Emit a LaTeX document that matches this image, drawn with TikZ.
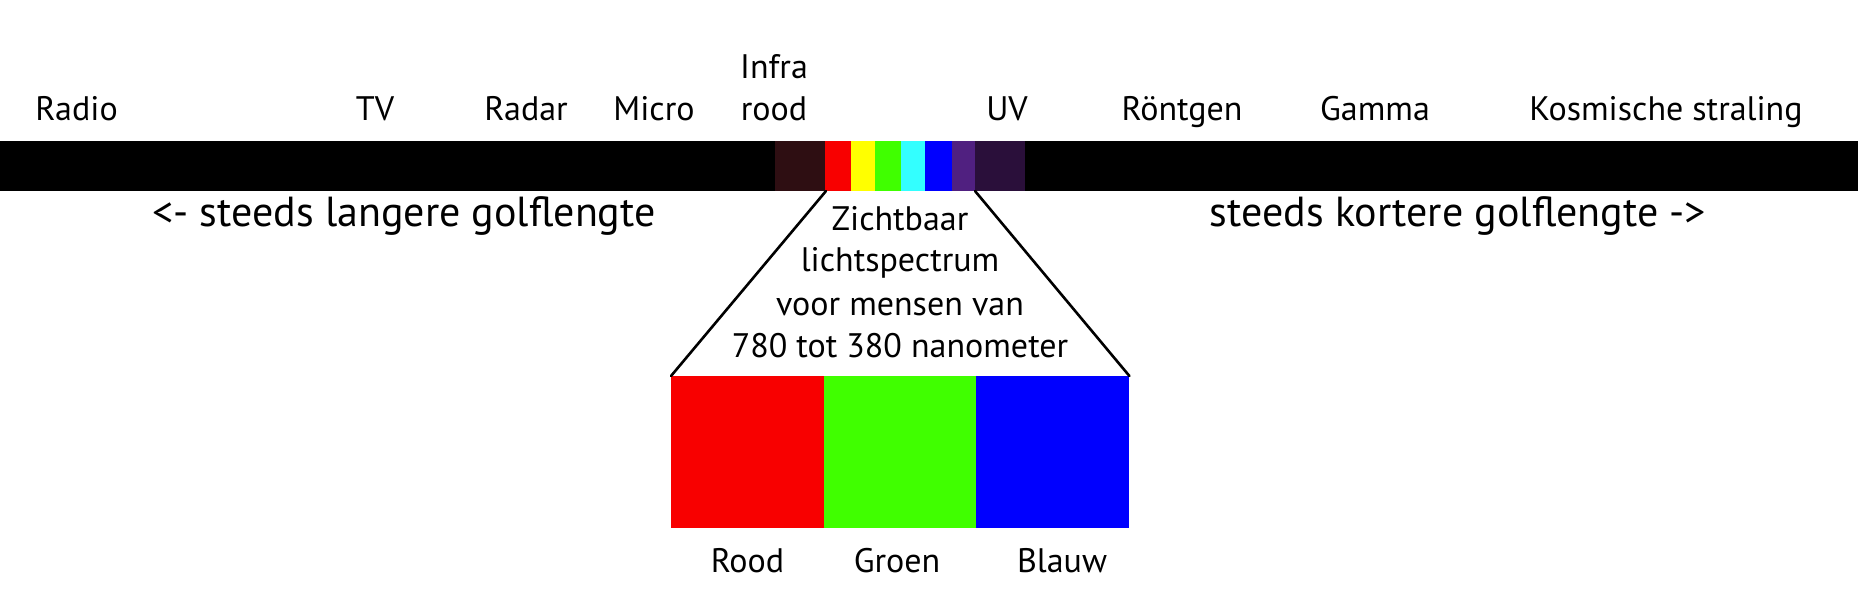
\documentclass[tikz,border=0pt]{standalone}
\usepackage{fontspec}
\setmainfont{PT Sans}
\usepackage{tikz}
\usetikzlibrary{positioning}

\definecolor{irdark}{RGB}{46,14,18}
\definecolor{specred}{RGB}{248,0,0}
\definecolor{specyellow}{RGB}{255,255,0}
\definecolor{specgreen}{RGB}{64,255,0}
\definecolor{speccyan}{RGB}{51,255,255}
\definecolor{specblue}{RGB}{0,0,255}
\definecolor{specpurple}{RGB}{80,32,128}
\definecolor{uvdark}{RGB}{42,15,58}

\tikzset{
	lbl/.style={font=\fontsize{34}{42}\selectfont, inner sep=0pt},
	bigtxt/.style={font=\fontsize{42}{50}\selectfont, inner sep=0pt},
	colbox/.style={minimum width=153pt, minimum height=152pt, inner sep=0pt, anchor=north west},
	fan/.style={line width=2.6pt, line cap=round}
}

\begin{document}
\begin{tikzpicture}[x=1pt, y=-1pt]
			%%%%% START %%%%%
			\useasboundingbox (0, 0) rectangle (1858, 604);
			
			\fill[black] (0, 141) rectangle (1858, 191);
			
			\fill[irdark] (775, 141) rectangle (825, 191);
			\fill[specred] (825, 141) rectangle (851, 191);
			\fill[specyellow] (851, 141) rectangle (875, 191);
			\fill[specgreen] (875, 141) rectangle (901, 191);
			\fill[speccyan] (901, 141) rectangle (925, 191);
			\fill[specblue] (925, 141) rectangle (952, 191);
			\fill[specpurple] (952, 141) rectangle (975, 191);
			\fill[uvdark] (975, 141) rectangle (1025, 191);
			
			\coordinate (visL) at (826, 191);
			\coordinate (visR) at (975, 191);
			
			\node[lbl, anchor=base] (radio) at (76.5, 121) {Radio};
			\node[lbl, anchor=base] (tv) at (375, 121) {TV};
			\node[lbl, anchor=base] (radar) at (526, 121) {Radar};
			\node[lbl, anchor=base] (micro) at (654, 121) {Micro};
			\node[lbl, anchor=base] (rood) at (774, 121) {rood};
			\node[lbl, anchor=base] (infra) at (774, 79) {Infra};
			\node[lbl, anchor=base] (uv) at (1007, 121) {UV};
			\node[lbl, anchor=base] (rontgen) at (1182, 121) {Röntgen};
			\node[lbl, anchor=base] (gamma) at (1375, 121) {Gamma};
			\node[lbl, anchor=base] (kosmisch) at (1666, 121) {Kosmische straling};
			
			\node[bigtxt, anchor=base] (langer) at (404, 227) {<- steeds langere golflengte};
			\node[bigtxt, anchor=base] (korter) at (1458, 227) {steeds kortere golflengte ->};
			
			\node[lbl, anchor=base] (zicht1) at (900, 230) {Zichtbaar};
			\node[lbl, anchor=base] (zicht2) at (900, 272) {lichtspectrum};
			\node[lbl, anchor=base] (zicht3) at (900, 315) {voor mensen van};
			\node[lbl, anchor=base] (zicht4) at (900, 357) {780 tot 380 nanometer};
			
			\node[colbox, fill=specred] (boxR) at (671, 376) {};
			\node[colbox, fill=specgreen] (boxG) at (824, 376) {};
			\node[colbox, fill=specblue] (boxB) at (976, 376) {};
			
			\draw[fan] (visL) -- (boxR.north west);
			\draw[fan] (visR) -- (boxB.north east);
			
			\node[lbl, anchor=base] (roodtxt) at (747.5, 572) {Rood};
			\node[lbl, anchor=base] (groentxt) at (897, 572) {Groen};
			\node[lbl, anchor=base] (blauwtxt) at (1062, 572) {Blauw};
			
			%%%%% END %%%%%
		\end{tikzpicture}
\end{document}
